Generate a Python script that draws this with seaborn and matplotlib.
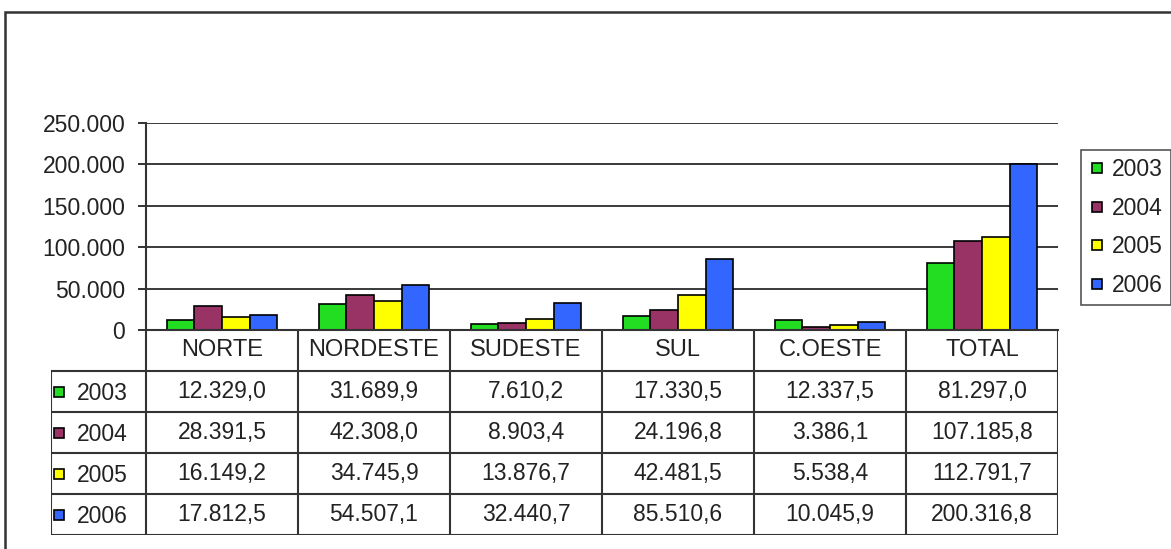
import matplotlib
matplotlib.use("Agg")
import matplotlib.pyplot as plt
from matplotlib.lines import Line2D
from matplotlib.patches import Rectangle
import seaborn as sns
import pandas as pd

categories = ["NORTE", "NORDESTE", "SUDESTE", "SUL", "C.OESTE", "TOTAL"]
years = ["2003", "2004", "2005", "2006"]
v2003 = [12329.0, 31689.9, 7610.2, 17330.5, 12337.5, 81297.0]
v2004 = [28391.5, 42308.0, 8903.4, 24196.8, 3386.1, 107185.8]
v2005 = [16149.2, 34745.9, 13876.7, 42481.5, 5538.4, 112791.7]
v2006 = [17812.5, 54507.1, 32440.7, 85510.6, 10045.9, 200316.8]
yticks = [0, 50000, 100000, 150000, 200000, 250000]
colors = ["#22dd22", "#993366", "#ffff00", "#3366ff"]

series = [v2003, v2004, v2005, v2006]
rows = []
for y, vals in zip(years, series):
    for c, v in zip(categories, vals):
        rows.append({"cat": c, "year": y, "value": v})
df = pd.DataFrame(rows)

sns.set_theme(style="white")
plt.rcParams["font.family"] = ["Liberation Sans", "DejaVu Sans"]

FS = 16.5
TXT = "#222222"
W, H = 1171, 549
fig = plt.figure(figsize=(W / 100, H / 100), dpi=100)

def fx(px):
    return px / W

def fy(py):
    return 1 - py / H

# outer frame
fig.patches.append(Rectangle((fx(5), -0.2), 1.5, fy(12) + 0.2, transform=fig.transFigure,
                             fill=False, edgecolor="#333333", lw=1.8))

L, R, T, B = 146, 1058, 123, 330
ax = fig.add_axes([fx(L), fy(B), fx(R) - fx(L), fy(T) - fy(B)])
sns.barplot(data=df, x="cat", y="value", hue="year", order=categories, hue_order=years,
            palette=colors, width=0.73, edgecolor="black", linewidth=1.2,
            legend=False, ax=ax, saturation=1)
ax.set_xlim(-0.5, 5.5)
ax.set_ylim(0, 250000)
ax.set_yticks(yticks)
ax.set_yticklabels([f"{t:,.0f}".replace(",", ".") for t in yticks], fontsize=FS, color=TXT)
ax.set_xticks([])
ax.set_xlabel("")
ax.set_ylabel("")
for t in yticks[1:]:
    ax.axhline(t, color="#3a3a3a", lw=1.4, zorder=0)
for s in ["top", "right"]:
    ax.spines[s].set_visible(False)
for s in ["left", "bottom"]:
    ax.spines[s].set_color("#333333")
    ax.spines[s].set_linewidth(1.5)
ax.tick_params(axis="y", length=6, width=1.4, color="#333333", pad=9, left=True)
ax.patch.set_alpha(0)

# data table
TL, TB = 51, 535
tax = fig.add_axes([fx(TL), fy(TB), fx(R) - fx(TL), fy(B) - fy(TB)])
x0 = -0.5 - (L - TL) / 152.0
tax.set_xlim(x0, 5.5)
tax.set_ylim(0, 5)
tax.axis("off")
lc, lw = "#333333", 1.5
for yy in [0, 1, 2, 3, 4]:
    tax.plot([x0, 5.5], [yy, yy], color=lc, lw=lw, solid_capstyle="butt")
tax.plot([x0, x0], [0, 4], color=lc, lw=lw)
for k in range(7):
    tax.plot([k - 0.5, k - 0.5], [0, 5], color=lc, lw=lw)

def fmt(v):
    return f"{v:,.1f}".replace(",", "X").replace(".", ",").replace("X", ".")

for i, c in enumerate(categories):
    tax.text(i, 4.5, c, ha="center", va="center", fontsize=FS + 0.5, color=TXT)
for r, (y, vals, col) in enumerate(zip(years, series, colors)):
    yy = 3.5 - r
    tax.plot([x0 + 0.05], [yy], marker="s", ms=7, mfc=col, mec="black", mew=1.2)
    tax.text(x0 + 0.17, yy - 0.05, y, ha="left", va="center", fontsize=FS, color=TXT)
    for i, v in enumerate(vals):
        tax.text(i, yy, fmt(v), ha="center", va="center", fontsize=FS, color=TXT)

# legend
handles = [Line2D([], [], ls="none", marker="s", ms=7.5, mfc=c, mec="black", mew=1.2) for c in colors]
leg = fig.legend(handles, years, loc="upper left", bbox_to_anchor=(fx(1081), fy(150)),
                 frameon=True, fancybox=False, framealpha=1, edgecolor="#555555",
                 fontsize=FS, handlelength=0.7, handletextpad=0.3, labelspacing=0.68,
                 borderpad=0.35, borderaxespad=0)
leg.get_frame().set_linewidth(1.2)
for t in leg.get_texts():
    t.set_color(TXT)

fig.savefig("out.png", dpi=100)
